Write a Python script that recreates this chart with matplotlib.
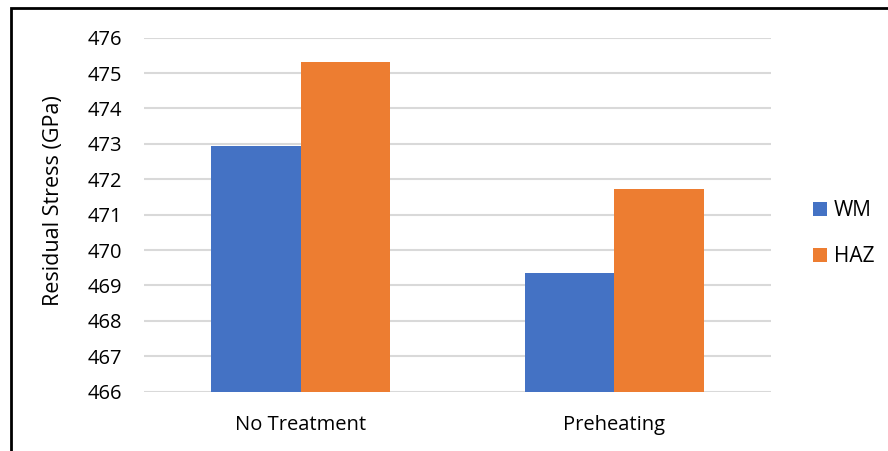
import numpy as np
import matplotlib
matplotlib.use('Agg')
import matplotlib.pyplot as plt
from matplotlib.patches import Rectangle

plt.rcParams['font.family'] = ['Open Sans', 'DejaVu Sans']

categories = ['No Treatment', 'Preheating']
series_names = ['WM', 'HAZ']
wm_values = [472.93, 469.36]
haz_values = [475.30, 471.73]
y_ticks = [466, 467, 468, 469, 470, 471, 472, 473, 474, 475, 476]

colors = ['#4472C4', '#ED7D31']

fig = plt.figure(figsize=(8.88, 4.51), dpi=100)
ax = fig.add_axes([0.1622, 0.1315, 0.706, 0.785])

x = np.arange(len(categories))
width = 0.286
base = y_ticks[0]
for i, (name, vals) in enumerate(zip(series_names, [wm_values, haz_values])):
    offset = (i - 0.5) * width
    heights = [v - base for v in vals]
    ax.bar(x + offset, heights, width, bottom=base, color=colors[i],
           label=name, zorder=3)

ax.set_xlim(-0.5, len(categories) - 0.5)
ax.set_ylim(y_ticks[0], y_ticks[-1])
ax.set_yticks(y_ticks)
ax.set_xticks(x)
ax.set_xticklabels(categories)
ax.tick_params(axis='both', length=0, labelsize=14.5)
ax.tick_params(axis='y', pad=16)
ax.tick_params(axis='x', pad=17)
ax.grid(axis='y', color='#d9d9d9', linewidth=1.5, zorder=0)
for side in ['top', 'right', 'left', 'bottom']:
    ax.spines[side].set_visible(False)

ax.set_ylabel('Residual Stress (GPa)', fontsize=15.5)
ax.yaxis.set_label_coords(-0.128, 0.54)

ax.legend(loc='center left', bbox_to_anchor=(0.904, 0.482),
          bbox_transform=fig.transFigure, frameon=False, fontsize=15,
          handlelength=0.68, handleheight=0.68, handletextpad=0.3,
          labelspacing=1.2, borderpad=0)

# outer frame around the chart
frame = Rectangle((11 / 888, -0.1), 1.2, 1 - 8 / 451 + 0.1,
                  transform=fig.transFigure, fill=False,
                  edgecolor='black', linewidth=2, clip_on=False)
fig.patches.append(frame)

fig.savefig('out.png', dpi=100)
